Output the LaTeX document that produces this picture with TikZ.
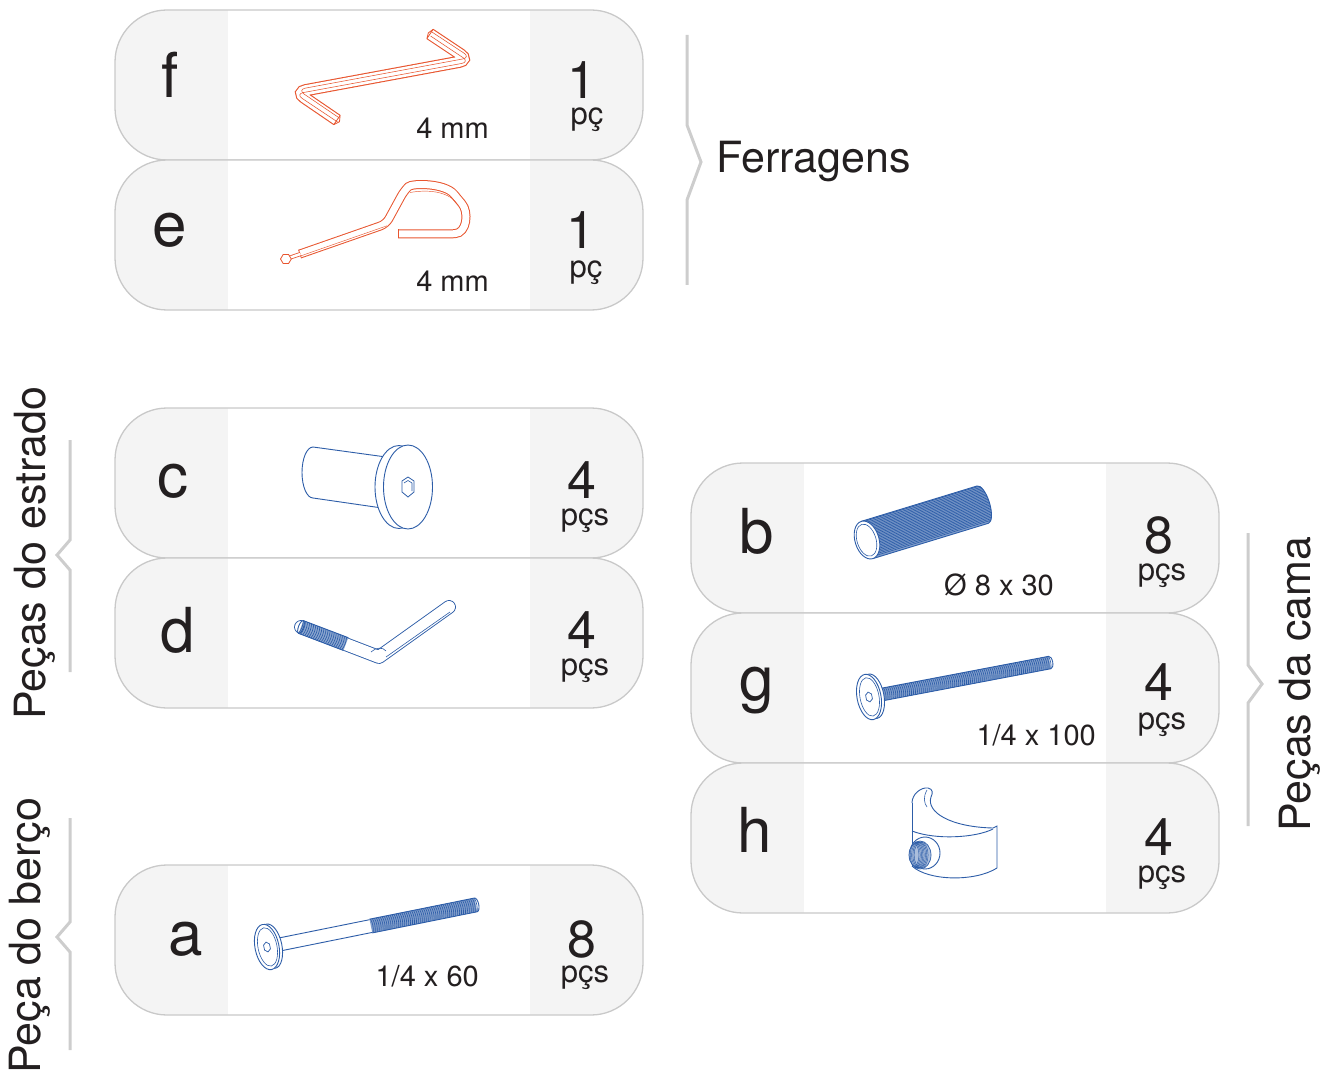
\documentclass[tikz,border=0pt]{standalone}
\usepackage{fontspec}
\setmainfont{TeX Gyre Heros}
\usetikzlibrary{calc}
\definecolor{boxline}{HTML}{C9C9C9}
\definecolor{boxfill}{HTML}{F4F4F4}
\definecolor{brk}{HTML}{CDCDCD}
\definecolor{orng}{HTML}{E8552F}
\definecolor{blu}{HTML}{2D5DA8}
\definecolor{ink}{HTML}{231F20}
\begin{document}
\begin{tikzpicture}[x=1pt, y=-1pt,
 pbox/.style={draw=boxline, line width=1.3pt, fill=boxfill, rounded corners=52pt,
   minimum width=528pt, minimum height=150pt, inner sep=0pt, outer sep=0pt, anchor=north west,
   path picture={\fill[white, sharp corners] ([xshift=113pt]path picture bounding box.south west) rectangle ([xshift=415pt]path picture bounding box.north west);}},
 letter/.style={font=\fontsize{62}{62}\selectfont, text=ink, inner sep=0pt, anchor=base},
 qty/.style={font=\fontsize{52}{52}\selectfont, text=ink, inner sep=0pt, anchor=base},
 unit/.style={font=\fontsize{31}{31}\selectfont, text=ink, inner sep=0pt, anchor=base},
 size/.style={font=\fontsize{29}{29}\selectfont, text=ink, inner sep=0pt, anchor=base east},
 group/.style={font=\fontsize{43}{43}\selectfont, text=ink, inner sep=0pt},
 brace/.style={draw=brk, line width=3pt},
 keyline/.style={draw=orng, line width=1.1pt, double=white, double distance=10pt, rounded corners=10pt},
 facet/.style={draw=orng, line width=0.55pt, rounded corners=8pt},
 part/.style={draw=blu, line width=0.9pt},
 thread/.style={draw=blu, line width=0.65pt},
]
\useasboundingbox (0,0) rectangle (1330,1075);

% ---------- boxes
\node[pbox] (bf) at (115,10) {};
\node[pbox] (be) at (115,160) {};
\node[pbox] (bc) at (115,408) {};
\node[pbox] (bd) at (115,558) {};
\node[pbox] (ba) at (115,865) {};
\node[pbox] (bb) at (691,463) {};
\node[pbox] (bg) at (691,613) {};
\node[pbox] (bh) at (691,763) {};

% ---------- letters
\node[letter] (lf) at (170,98) {f};
\node[letter] (le) at (170,247) {e};
\node[letter] (lc) at (173,497) {c};
\node[letter] (ld) at (178,652) {d};
\node[letter] (la) at (186,955) {a};
\node[letter] (lb) at (757,553) {b};
\node[letter] (lg) at (757,700) {g};
\node[letter] (lh) at (755,852) {h};

% ---------- quantities
\node[qty] (qf) at (582,99) {1};
\node[unit] (uf) at (587,125) {pç};
\node[qty] (qe) at (581,249) {1};
\node[unit] (ue) at (586,277) {pç};
\node[qty] (qc) at (582,498) {4};
\node[unit] (uc) at (585,525) {pçs};
\node[qty] (qd) at (582,648) {4};
\node[unit] (ud) at (585,675) {pçs};
\node[qty] (qa) at (582,957) {8};
\node[unit] (ua) at (585,982) {pçs};
\node[qty] (qb) at (1159,553) {8};
\node[unit] (ub) at (1162,580) {pçs};
\node[qty] (qg) at (1159,700) {4};
\node[unit] (ug) at (1162,729) {pçs};
\node[qty] (qh) at (1159,855) {4};
\node[unit] (uh) at (1162,882) {pçs};

% ---------- sizes
\node[size] (sf) at (489,139) {4 mm};
\node[size] (se) at (489,291) {4 mm};
\node[size] (sb) at (1054,595) {Ø 8 x 30};
\node[size] (sg) at (1096,745) {1/4 x 100};
\node[size] (sa) at (479,986) {1/4 x 60};

% ---------- group labels and brackets
\node[group, anchor=base west] (gF) at (716,173) {Ferragens};
\node[group, rotate=90, anchor=base west] (gE) at (45,720) {Peças do estrado};
\node[group, rotate=90, anchor=base west] (gB) at (40,1074) {Peça do berço};
\node[group, rotate=90, anchor=base west] (gC) at (1310,832) {Peças da cama};
\draw[brace] (687,35) -- (687,125) -- (701,162) -- (687,200) -- (687,285);
\draw[brace] (70,440) -- (70,540) -- (57,555) -- (70,570) -- (70,672);
\draw[brace] (70,818) -- (70,922) -- (57,937) -- (70,952) -- (70,1050);
\draw[brace] (1248,533) -- (1248,665) -- (1262,684) -- (1248,703) -- (1248,826);

% ---------- f : hex key (Z)
\coordinate (f1) at (337,120);
\coordinate (f2) at (296,92);
\coordinate (f3) at (469,60);
\coordinate (f4) at (430,34);
\draw[keyline] (f1) -- (f2) -- (f3) -- (f4);
\draw[facet] (337.6,122) -- (295.5,94) -- (469.6,62) -- (430.6,36);
\draw[facet] (338.6,117.5) -- (297.5,89.6) -- (470.6,57.5) -- (431.6,31.8);
\draw[orng, line width=0.8pt] ($(f1)!5.5pt!90:(f2)$) -- ($(f1)!5.5pt!-90:(f2)$);
\draw[orng, line width=0.8pt] ($(f1)!5.5pt!90:(f2)$) -- ($(f1)!-3pt!(f2)$) -- ($(f1)!5.5pt!-90:(f2)$);
\draw[orng, line width=0.8pt] ($(f4)!5.5pt!90:(f3)$) -- ($(f4)!5.5pt!-90:(f3)$);
\draw[orng, line width=0.8pt] ($(f4)!5.5pt!90:(f3)$) -- ($(f4)!-2pt!(f3)$) -- ($(f4)!5.5pt!-90:(f3)$);

% ---------- e : ball key with loop
\coordinate (e1) at (300,254);
\coordinate (e2) at (386,224);
\coordinate (e3) at (404,191);
\coordinate (e4) at (398,234);
\draw[orng, line width=1pt, double=white, double distance=7pt, rounded corners=6pt]
  (e1) -- (e2) -- (e3) .. controls (412,183) and (445,183) .. (458,199)
  .. controls (469,212) and (467,233) .. (449,234) -- (e4);
\draw[orng, line width=0.45pt] (301,255.8) -- (387,225.8);
\draw[orng, line width=0.45pt] (410,192.5) .. controls (430,189) and (450,192) .. (458,205);
\draw[orng, line width=0.8pt] ($(e1)!4.5pt!90:(e2)$) -- ($(e1)!4.5pt!-90:(e2)$);
\draw[orng, line width=0.8pt] (398,229.5) -- (398,238.5);
\draw[orng, line width=0.8pt, double=white, double distance=2.5pt] (290,257.6) -- (300.5,254);
\draw[orng, line width=0.8pt, fill=white] (280.5,259) -- (283.2,254.5) -- (288.6,254.5) -- (291.3,259) -- (288.6,263.5) -- (283.2,263.5) -- cycle;

% ---------- c : barrel nut
\draw[part] (313,447) -- (386,457);
\draw[part] (313,498) -- (382,508);
\draw[part] (313,447) arc[start angle=270, end angle=90, x radius=11, y radius=25.5];
\filldraw[part, fill=white] (399,487) ellipse[x radius=24, y radius=41.5];
\filldraw[part, fill=white] (408,487) ellipse[x radius=24.5, y radius=42];
\draw[part, line width=0.8pt] (408,477) -- (414,481) -- (414,492) -- (408,497) -- (402,492) -- (402,481) -- cycle;
\draw[part, line width=0.6pt] (404,483) -- (408,480.5) -- (412,483) -- (412,491);

% ---------- d : L bolt
\draw[blu, line width=0.9pt, double=white, double distance=12pt, line cap=round, line join=round] (301,627) -- (379,657) -- (449,607);
\begin{scope}[shift={(301,627)}, rotate=-20.8]
  \fill[blu!55] (0,-6.8) -- (48,-6.8) -- (48,6.8) -- (0,6.8) -- cycle;
  \foreach \s in {0,2.2,...,48} \draw[thread] (\s,-6.8) .. controls (\s+1.4,-2) and (\s+1.4,2) .. (\s,6.8);
  \draw[part] (0,-6.8) -- (48,-6.8);
  \draw[part] (0,6.8) -- (48,6.8);
  \draw[part] (0,0) ellipse[x radius=2.5, y radius=6.8];
\end{scope}
\draw[part, line width=0.6pt] (371,652) .. controls (376,647) and (383,647) .. (386,651);
\draw[part, line width=0.6pt] (386,657) -- (450,612);

% ---------- b : fluted dowel
\begin{scope}[shift={(867,540)}, rotate=17]
  \fill[blu!60] (0,-19.5) -- (121,-19.5) arc[start angle=-90, end angle=90, x radius=7, y radius=19.5] -- (0,19.5) -- cycle;
  \foreach \t in {-18.6,-17.1,...,18.8} {
    \pgfmathsetmacro\ss{12*sqrt(1-(\t/19.5)*(\t/19.5))}
    \pgfmathsetmacro\se{121+7*sqrt(1-(\t/19.5)*(\t/19.5))}
    \draw[thread] (\ss,\t) -- (\se,\t);
  }
  \draw[part] (0,-19.5) -- (121,-19.5) arc[start angle=-90, end angle=90, x radius=7, y radius=19.5] -- (0,19.5);
  \filldraw[part, fill=white] (0,0) ellipse[x radius=12, y radius=19.5];
  \draw[part, line width=0.6pt] (-0.5,0) ellipse[x radius=9.5, y radius=16.5];
\end{scope}

% ---------- g : long bolt
\begin{scope}[shift={(869,697)}, rotate=10.8]
  \fill[blu!60] (6,-6.3) -- (184,-6.3) -- (184,6.3) -- (6,6.3) -- cycle;
  \foreach \s in {8,10,...,184} \draw[thread] (\s,-6.3) .. controls (\s+1.3,-2) and (\s+1.3,2) .. (\s,6.3);
  \draw[part] (6,-6.3) -- (184,-6.3) arc[start angle=-90, end angle=90, x radius=3, y radius=6.3] -- (6,6.3);
  \filldraw[part, fill=white] (4,0) ellipse[x radius=11, y radius=22.5];
  \filldraw[part, fill=white] (0,0) ellipse[x radius=12, y radius=23];
  \draw[part, line width=0.6pt] (0.5,0) ellipse[x radius=9.5, y radius=19.5];
  \draw[part, line width=0.7pt] (0,-5) -- (3,-2.5) -- (3,2.5) -- (0,5) -- (-3,2.5) -- (-3,-2.5) -- cycle;
\end{scope}

% ---------- a : bolt
\begin{scope}[shift={(267,947)}, rotate=11.4]
  \draw[part] (8,-6.5) -- (106,-6.5);
  \draw[part] (8,6.5) -- (106,6.5);
  \fill[blu!60] (106,-7) -- (213,-7) -- (213,7) -- (106,7) -- cycle;
  \foreach \s in {107,109,...,213} \draw[thread] (\s,-7) .. controls (\s+1.4,-2) and (\s+1.4,2) .. (\s,7);
  \draw[part] (106,-7) -- (213,-7) arc[start angle=-90, end angle=90, x radius=3, y radius=7] -- (106,7);
  \filldraw[part, fill=white] (4,0) ellipse[x radius=11, y radius=22.5];
  \filldraw[part, fill=white] (0,0) ellipse[x radius=12, y radius=23];
  \draw[part, line width=0.6pt] (0.5,0) ellipse[x radius=9.5, y radius=19.5];
  \draw[part, line width=0.7pt] (0,-5) -- (3,-2.5) -- (3,2.5) -- (0,5) -- (-3,2.5) -- (-3,-2.5) -- cycle;
\end{scope}

% ---------- h : cross dowel
\draw[part] (912,803) -- (912,866);
\draw[part] (912,803) .. controls (912,794) and (921,787) .. (928,788)
  .. controls (933,789) and (933,793) .. (931,797)
  .. controls (926,812) and (950,827) .. (993,828) -- (997,826) -- (997,868);
\draw[part, line width=0.6pt] (927,790) .. controls (923,797) and (924,803) .. (927,807);
\draw[part] (912,831) .. controls (935,840) and (975,838) .. (993,829);
\draw[part] (912,866) .. controls (928,881) and (975,882) .. (997,868);
\filldraw[part, fill=white] (925,853) ellipse[x radius=15, y radius=16];
\fill[blu!40] (920,855) ellipse[x radius=11, y radius=14];
\begin{scope}
  \clip (920,855) ellipse[x radius=11, y radius=14];
  \foreach \k in {0,...,7} \draw[blu, line width=0.45pt] ({912+\k*1.3},855) ellipse[x radius=7, y radius=13];
\end{scope}
\draw[part, line width=0.7pt] (920,855) ellipse[x radius=11, y radius=14];
\end{tikzpicture}
\end{document}
